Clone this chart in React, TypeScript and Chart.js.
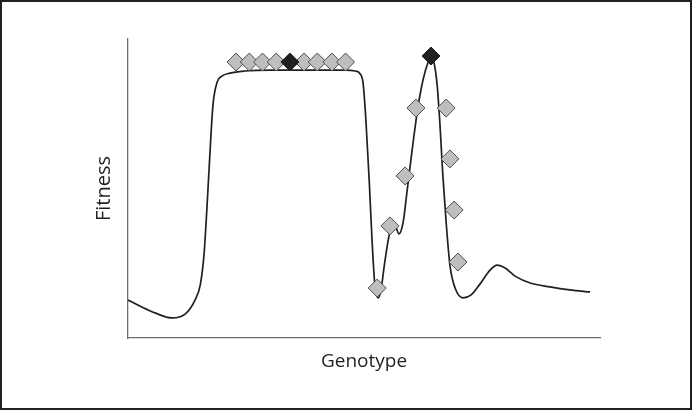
import React, { useEffect, useRef } from "react";
import { Chart, registerables } from "chart.js";

Chart.register(...registerables);

// Fitness landscape curve (genotype 0..100, fitness 0..100)
const curveX = [0, 2.5, 5.7, 9.3, 12.1, 14.2, 15.3, 16.1, 16.7, 17.4, 18.0, 18.9, 19.9, 21.6, 24.8, 30.1, 38.6, 46.0, 48.1, 49.2, 49.8, 50.4, 51.1, 51.7, 52.3, 53.0, 53.6, 54.4, 55.5, 56.6, 57.4, 58.3, 59.1, 60.2, 61.4, 62.5, 63.6, 64.2, 64.8, 65.5, 66.1, 66.7, 67.4, 68.2, 69.3, 71.0, 72.7, 74.6, 76.7, 78.2, 79.9, 82.0, 85.2, 89.4, 93.6, 97.9];
const curveY = [12.7, 10.7, 8.4, 6.7, 8.0, 12.7, 17.7, 27.8, 42.8, 62.9, 77.9, 85.6, 87.6, 88.6, 89.3, 89.6, 89.6, 89.6, 89.3, 88.3, 85.3, 72.9, 52.8, 32.8, 17.7, 13.4, 16.1, 25.4, 35.5, 37.5, 34.8, 38.8, 48.8, 62.9, 76.9, 86.3, 92.3, 94.0, 92.3, 84.6, 71.2, 54.5, 38.8, 24.4, 16.7, 13.4, 14.4, 18.1, 22.7, 24.4, 23.4, 20.7, 18.4, 17.1, 16.1, 15.4];

// Gray genotype markers
const grayX = [22.9, 25.7, 28.5, 31.4, 37.3, 40.1, 43.2, 46.1, 61.0, 67.4, 68.2, 58.7, 69.1, 55.5, 69.9, 52.8];
const grayY = [92.3, 92.3, 92.3, 92.3, 92.3, 92.3, 92.3, 92.3, 76.9, 76.9, 59.9, 54.2, 42.8, 37.5, 25.4, 16.7];

// Black (optimum) markers
const blackX = [34.3, 64.2];
const blackY = [92.3, 94.3];

const xTitle = "Genotype";
const yTitle = "Fitness";

const FONT = "'Open Sans', 'Noto Sans', sans-serif";
const INK = "#231f20";

export default function App() {
  const ref = useRef<HTMLCanvasElement | null>(null);

  useEffect(() => {
    document.body.style.margin = "0";
    const canvas = ref.current;
    if (!canvas) return;
    const zip = (xs: number[], ys: number[]) => xs.map((x, i) => ({ x, y: ys[i] }));
    const chart = new Chart(canvas, {
      type: "scatter",
      data: {
        datasets: [
          {
            type: "scatter",
            data: zip(blackX, blackY),
            pointStyle: "rectRot",
            pointRadius: 9,
            pointBackgroundColor: INK,
            pointBorderColor: INK,
            pointBorderWidth: 1,
          },
          {
            type: "scatter",
            data: zip(grayX, grayY),
            pointStyle: "rectRot",
            pointRadius: 9,
            pointBackgroundColor: "#bcbec0",
            pointBorderColor: "#4d4d4f",
            pointBorderWidth: 1,
          },
          {
            type: "line",
            data: zip(curveX, curveY),
            borderColor: INK,
            borderWidth: 1.7,
            pointRadius: 0,
            fill: false,
            cubicInterpolationMode: "monotone",
          } as any,
        ],
      },
      options: {
        responsive: false,
        animation: false,
        events: [],
        layout: { padding: { left: 78.5, right: 90, top: 37, bottom: 35.5 } },
        plugins: { legend: { display: false }, tooltip: { enabled: false } },
        scales: {
          x: {
            type: "linear",
            min: 0,
            max: 100,
            grid: { display: false, drawTicks: false, tickLength: 0 },
            ticks: { display: false },
            border: { display: true, color: "#6d6e71", width: 1.3 },
            title: {
              display: true,
              text: xTitle,
              color: INK,
              font: { family: FONT, size: 19, lineHeight: 1.2 },
              padding: { top: 11.7, bottom: 0 },
            },
          },
          y: {
            type: "linear",
            min: 0,
            max: 100,
            grid: { display: false, drawTicks: false, tickLength: 0 },
            ticks: { display: false },
            border: { display: true, color: "#6d6e71", width: 1.3 },
            title: {
              display: true,
              text: yTitle,
              color: INK,
              font: { family: FONT, size: 20, lineHeight: 1.2 },
              padding: { top: 11.5, bottom: 12 },
            },
          },
        },
      },
    });
    return () => chart.destroy();
  }, []);

  return (
    <div
      style={{
        width: 692,
        height: 410,
        boxSizing: "border-box",
        border: `2px solid ${INK}`,
        background: "#fff",
      }}
    >
      <canvas ref={ref} width={688} height={406} style={{ display: "block" }} />
    </div>
  );
}
